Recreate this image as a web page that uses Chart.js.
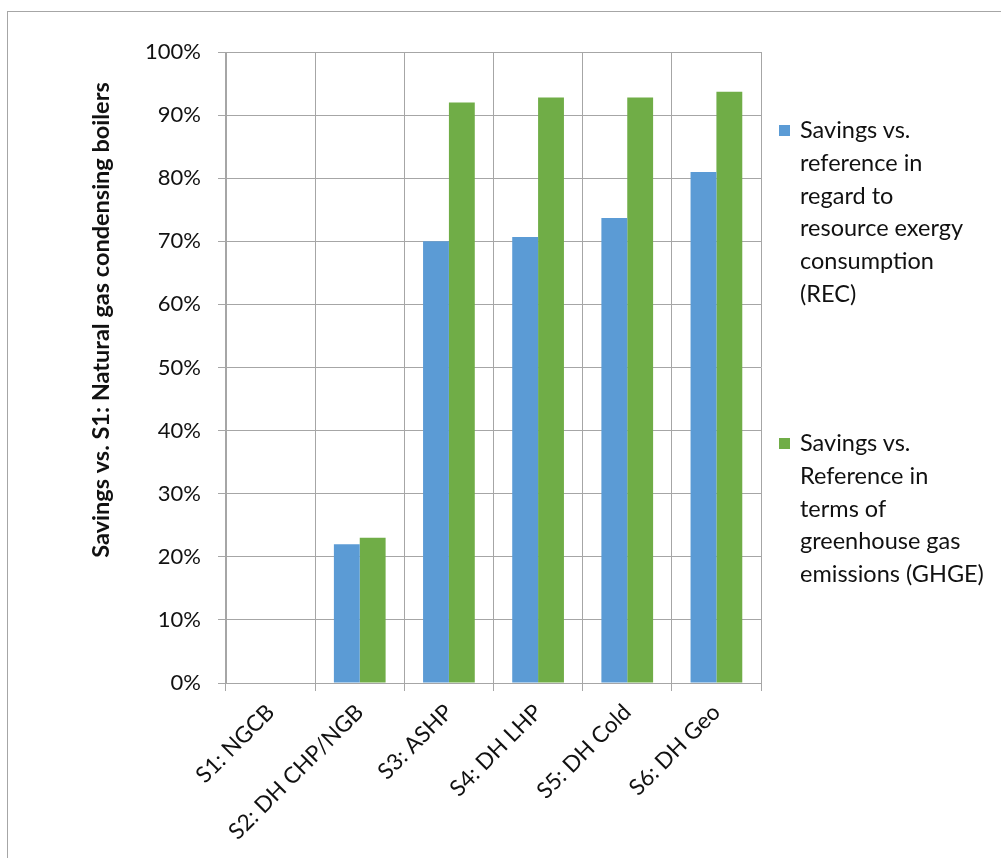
<!DOCTYPE html>
<html>
<head>
<meta charset="utf-8">
<script src="https://cdn.jsdelivr.net/npm/chart.js@4/dist/chart.umd.min.js"></script>
<style>
  body { margin: 0; background: #fff; }
  #wrap { position: relative; width: 1001px; height: 858px; overflow: hidden; }
  #frame { position: absolute; left: 7px; top: 11px; width: 1010px; height: 870px; border: 1px solid #a6a6a6; box-sizing: border-box; }
  #chart { position: absolute; left: 0; top: 0; }
  #legend { position: absolute; left: 779px; top: 113px; font-family: Lato, "Open Sans", sans-serif; font-size: 23.5px; color: #111; }
  .item { position: relative; padding-left: 21px; line-height: 32.8px; }
  .item .box { position: absolute; left: 0; top: 12px; width: 11px; height: 11px; }
</style>
</head>
<body>
<div id="wrap">
  <div id="frame"></div>
  <canvas id="chart" width="1001" height="858"></canvas>
  <div id="legend"></div>
</div>
<script>
// data (percent)
categories = ["S1: NGCB", "S2: DH CHP/NGB", "S3: ASHP", "S4: DH LHP", "S5: DH Cold", "S6: DH Geo"];
recValues = [0, 22, 70, 70.7, 73.7, 81];
ghgeValues = [0, 23, 92, 92.8, 92.8, 93.7];
recLabel = ["Savings vs.", "reference in", "regard to", "resource exergy", "consumption", "(REC)"];
ghgeLabel = ["Savings vs.", "Reference in", "terms of", "greenhouse gas", "emissions (GHGE)"];
yTitle = "Savings vs. S1: Natural gas condensing boilers";
yTicks = [0, 10, 20, 30, 40, 50, 60, 70, 80, 90, 100];

const BLUE = "#5b9bd5";
const GREEN = "#70ad47";
const GRID = "#a6a6a6";
const FONT = "Lato, 'Open Sans', sans-serif";

document.addEventListener("DOMContentLoaded", main);

function main() {
    drawChart();
    buildLegend();
}

// y title is centred on the whole chart in the original, not on the plot
const yTitlePlugin = {
    id: "yTitle",
    afterDraw(chart) {
        let c = chart.ctx;
        c.save();
        c.translate(101, 320);
        c.rotate(-Math.PI / 2);
        c.font = "bold 23.5px " + FONT;
        c.fillStyle = "#111";
        c.textAlign = "center";
        c.textBaseline = "middle";
        c.fillText(yTitle, 0, 0);
        c.restore();
    }
};

function drawChart() {
    let ctx = document.getElementById("chart").getContext("2d");
    new Chart(ctx, {
        type: "bar",
        data: {
            labels: categories,
            datasets: [{
                label: recLabel.join(" "),
                data: recValues,
                backgroundColor: BLUE,
                borderWidth: 0
            }, {
                label: ghgeLabel.join(" "),
                data: ghgeValues,
                backgroundColor: GREEN,
                borderWidth: 0
            }]
        },
        options: {
            responsive: false,
            devicePixelRatio: 1,
            animation: false,
            layout: { padding: { top: 52, right: 240, left: 0, bottom: 0 } },
            datasets: { bar: { categoryPercentage: 0.58, barPercentage: 1.0 } },
            plugins: {
                legend: { display: false },
                tooltip: { enabled: false }
            },
            scales: {
                x: {
                    grid: { color: GRID, offset: true, tickLength: 8, lineWidth: 1 },
                    border: { color: GRID },
                    ticks: {
                        color: "#111",
                        font: { family: FONT, size: 22.5 },
                        minRotation: 45,
                        maxRotation: 45,
                        padding: 8
                    },
                    afterFit: s => { s.height = 175; }
                },
                y: {
                    min: 0,
                    max: 100,
                    afterBuildTicks: s => { s.ticks = yTicks.map(v => ({ value: v })); },
                    grid: { color: GRID, tickLength: 8, lineWidth: 1 },
                    border: { color: GRID },
                    ticks: {
                        color: "#111",
                        font: { family: FONT, size: 22 },
                        padding: 17,
                        callback: v => v + "%"
                    },
                    afterFit: s => { s.width = 226; }
                }
            }
        },
        plugins: [yTitlePlugin]
    });
}

function buildLegend() {
    let items = [[recLabel, BLUE, 0], [ghgeLabel, GREEN, 313]];
    let html = "";
    for (let n = 0; n < items.length; n++) {
        let t = items[n];
        html += "<div class='item' style='position:absolute;top:" + t[2] + "px;white-space:nowrap'>" +
            "<span class='box' style='background:" + t[1] + "'></span>" + t[0].join("<br>") + "</div>";
    }
    document.getElementById("legend").innerHTML = html;
}
</script>
</body>
</html>
